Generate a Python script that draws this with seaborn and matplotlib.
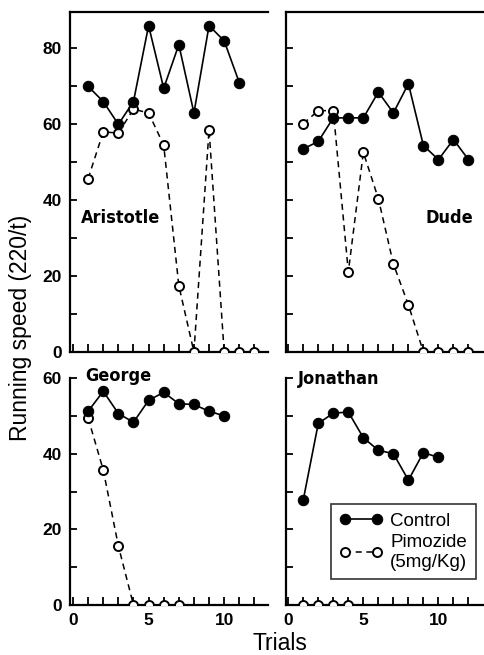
import matplotlib
matplotlib.use("Agg")
import matplotlib.pyplot as plt
import seaborn as sns
import pandas as pd
import numpy as np

# ---- data ----
aristotle_control = [70, 66, 60, 66, 86, 69.5, 81, 63, 86, 82, 71]
aristotle_pimozide = [45.7, 58, 57.7, 64, 63, 54.5, 17.5, 0, 58.6, 0, 0, 0]
dude_control = [53.5, 55.5, 61.7, 61.7, 61.7, 68.5, 63, 70.7, 54.4, 50.7, 56, 50.7]
dude_pimozide = [60.2, 63.6, 63.6, 21.1, 52.6, 40.4, 23.2, 12.4, 0, 0, 0, 0]
george_control = [51.2, 56.5, 50.6, 48.3, 54.1, 56.2, 53.2, 53, 51.2, 50]
george_pimozide = [49.4, 35.7, 15.6, 0, 0, 0, 0]
jonathan_control = [27.8, 48, 50.7, 51, 44.2, 40.9, 40, 33, 40.3, 39]
jonathan_pimozide = [0, 0, 0, 0]

rats = ["Aristotle", "Dude", "George", "Jonathan"]
series = {
    "Aristotle": (aristotle_control, aristotle_pimozide),
    "Dude": (dude_control, dude_pimozide),
    "George": (george_control, george_pimozide),
    "Jonathan": (jonathan_control, jonathan_pimozide),
}
control_label = "Control"
pimozide_label = "Pimozide\n(5mg/Kg)"
xlabel = "Trials"
ylabel = "Running speed (220/t)"

sns.set_style("ticks")
plt.rcParams["font.family"] = ["Liberation Sans", "DejaVu Sans"]
plt.rcParams["text.color"] = "black"
plt.rcParams["axes.labelcolor"] = "black"
plt.rcParams["xtick.color"] = "black"
plt.rcParams["ytick.color"] = "black"

W, H = 485, 655
fig = plt.figure(figsize=(W / 100, H / 100), dpi=100)

def ax_at(x0, y0, x1, y1):
    return fig.add_axes([x0 / W, 1 - y1 / H, (x1 - x0) / W, (y1 - y0) / H])

axes = {
    "Aristotle": ax_at(70, 12, 268, 352),
    "Dude": ax_at(286, 12, 485, 352),
    "George": ax_at(70, 378, 268, 605),
    "Jonathan": ax_at(286, 378, 485, 605),
}

name_font = dict(family="DejaVu Sans", fontstretch="condensed", weight="heavy", fontsize=13)

for rat in rats:
    ax = axes[rat]
    ctrl, pim = series[rat]
    dfc = pd.DataFrame({"trial": np.arange(1, len(ctrl) + 1), "speed": ctrl})
    dfp = pd.DataFrame({"trial": np.arange(1, len(pim) + 1), "speed": pim})
    sns.lineplot(data=dfp, x="trial", y="speed", ax=ax, color="black", lw=1.1,
                 linestyle=(0, (4, 3)), marker="o", markersize=6.5,
                 markerfacecolor="white", markeredgecolor="black",
                 markeredgewidth=1.4, legend=False, zorder=3)
    sns.lineplot(data=dfc, x="trial", y="speed", ax=ax, color="black", lw=1.2,
                 marker="o", markersize=7.5, markerfacecolor="black",
                 markeredgecolor="black", legend=False, zorder=4)
    top = rat in ("Aristotle", "Dude")
    left = rat in ("Aristotle", "George")
    ax.set_ylim(0, 89.6 if top else 60)
    ax.set_xlim(-0.2, 12.9) if left else ax.set_xlim(-0.15, 13.1)
    ax.set_xlabel("")
    ax.set_ylabel("")
    ax.spines["right"].set_visible(False)
    ax.spines["top"].set_visible(top)
    for s in ax.spines.values():
        s.set_linewidth(1.6)
        s.set_color("black")
    ymax = 80 if top else 60
    yt = np.arange(0, ymax + 1, 10)
    ax.set_yticks(yt)
    if left:
        ax.set_yticklabels([str(v) if v % 20 == 0 else "" for v in yt])
    else:
        ax.set_yticklabels([])
    xt = np.arange(0, 13)
    ax.set_xticks(xt)
    if top:
        ax.set_xticklabels([])
    else:
        ax.set_xticklabels([str(v) if v % 5 == 0 else "" for v in xt])
    ax.tick_params(axis="both", direction="in", length=5, width=1.3,
                   labelsize=12.5, pad=6, colors="black")
    ax.tick_params(axis="x", length=6)
    for lab in ax.get_xticklabels() + ax.get_yticklabels():
        lab.set_fontweight("bold")
    ax.grid(False)

axes["Aristotle"].text(0.53, 35.4, "Aristotle", ha="left", va="center", **name_font)
axes["Dude"].text(12.3, 35.4, "Dude", ha="right", va="center", **name_font)
axes["George"].text(0.8, 60.6, "George", ha="left", va="center", **name_font)
axes["Jonathan"].text(0.67, 59.8, "Jonathan", ha="left", va="center", **name_font)

axj = axes["Jonathan"]
lines = axj.get_lines()
handles = [lines[1], lines[0]]
leg = axj.legend(handles, [control_label, pimozide_label], loc="upper left",
                 bbox_to_anchor=(0.226, 0.445), numpoints=2, fontsize=13.5,
                 frameon=True, fancybox=False, edgecolor="black",
                 handlelength=2.3, handletextpad=0.4, borderpad=0.45,
                 labelspacing=0.25, borderaxespad=0)
leg.get_frame().set_linewidth(1.2)

fig.text(280 / W, 1 - 643 / H, xlabel, ha="center", va="center", fontsize=16.5)
fig.text(21 / W, 1 - 328 / H, ylabel, ha="center", va="center", rotation=90, fontsize=16.5)

fig.savefig("out.png", dpi=100)
